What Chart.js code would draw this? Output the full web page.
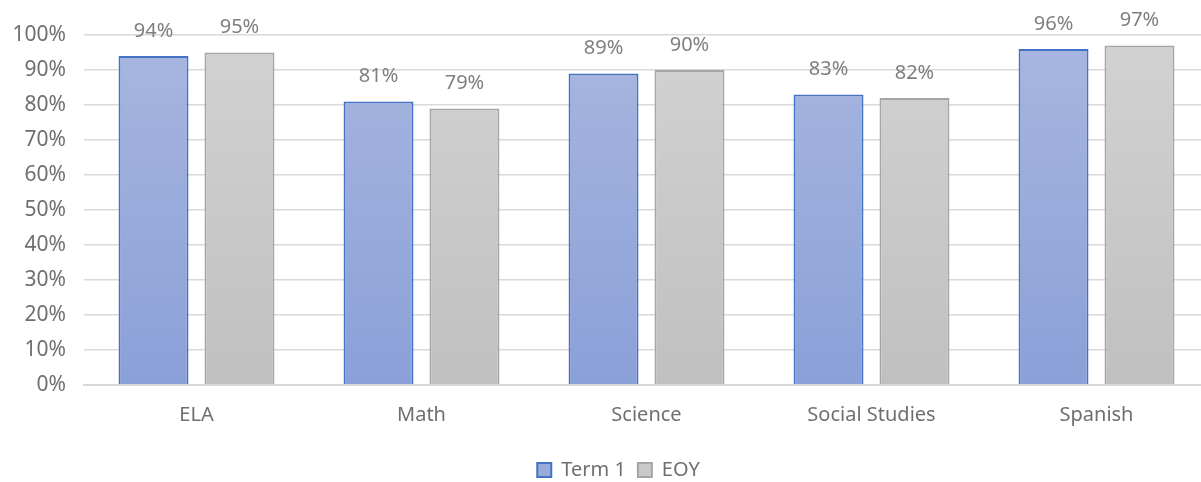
<!DOCTYPE html>
<html lang="en">
<head>
    <meta charset="UTF-8">
    <title>Term 1 vs EOY</title>
    <script src="https://cdn.jsdelivr.net/npm/chart.js"></script>
    <style>
        html, body { margin: 0; padding: 0; background: #fff; overflow: hidden; }
        #wrap { width: 1237px; height: 482px; }
    </style>
</head>
<body>
    <div id="wrap"><canvas id="gradesChart"></canvas></div>
    <script>
        const subjects = ['ELA', 'Math', 'Science', 'Social Studies', 'Spanish'];
        const term1 = [94, 81, 89, 83, 96];
        const eoy = [95, 79, 90, 82, 97];
        const seriesNames = ['Term 1', 'EOY'];

        const FONT = 'Noto Sans';
        const TEXT = '#6f6f6f';

        function vGradient(ctx, top, bottom) {
            const area = ctx.chart.chartArea;
            if (!area) return top;
            const g = ctx.chart.ctx.createLinearGradient(0, area.top, 0, area.bottom);
            g.addColorStop(0, top);
            g.addColorStop(1, bottom);
            return g;
        }

        // value labels above each bar
        const barLabels = {
            id: 'barLabels',
            afterDatasetsDraw(chart) {
                const c = chart.ctx;
                c.save();
                c.font = '20px "' + FONT + '"';
                c.fillStyle = '#7f7f7f';
                c.textAlign = 'center';
                c.textBaseline = 'middle';
                chart.data.datasets.forEach((ds, i) => {
                    chart.getDatasetMeta(i).data.forEach((bar, j) => {
                        c.fillText(ds.data[j] + '%', bar.x, bar.y - 25);
                    });
                });
                c.restore();
            }
        };

        // legend sits a little right of the canvas centre
        const legendShift = {
            id: 'legendShift',
            afterLayout(chart) {
                chart.legend.left += 14;
                chart.legend.right += 14;
            }
        };

        new Chart(document.getElementById('gradesChart'), {
            type: 'bar',
            data: {
                labels: subjects,
                datasets: [{
                    label: seriesNames[0],
                    data: term1,
                    backgroundColor: ctx => vGradient(ctx, '#a8b6e0', '#8aa0d8'),
                    borderColor: '#4472c4',
                    borderWidth: 2,
                    borderSkipped: 'bottom'
                }, {
                    label: seriesNames[1],
                    data: eoy,
                    backgroundColor: ctx => vGradient(ctx, '#d2d2d2', '#c0c0c0'),
                    borderColor: '#a5a5a5',
                    borderWidth: 2,
                    borderSkipped: 'bottom'
                }]
            },
            options: {
                responsive: true,
                maintainAspectRatio: false,
                animation: false,
                datasets: { bar: { categoryPercentage: 0.764, barPercentage: 0.814 } },
                layout: { padding: { top: 35, right: 28, left: 0, bottom: -8 } },
                plugins: {
                    tooltip: { enabled: false },
                    legend: {
                        position: 'bottom',
                        labels: {
                            font: { family: FONT, size: 20 },
                            color: TEXT,
                            boxWidth: 14,
                            boxHeight: 14,
                            padding: 12,
                            generateLabels(chart) {
                                const fills = ['#98abdc', '#c9c9c9'];
                                return chart.data.datasets.map((ds, i) => ({
                                    text: ds.label,
                                    fillStyle: fills[i],
                                    strokeStyle: ds.borderColor,
                                    lineWidth: 2,
                                    fontColor: TEXT,
                                    datasetIndex: i
                                }));
                            }
                        }
                    }
                },
                scales: {
                    x: {
                        grid: { display: false },
                        border: { color: '#d9d9d9', width: 2 },
                        ticks: { font: { family: FONT, size: 20 }, color: TEXT, padding: 10 },
                        afterFit(scale) { scale.height = 63; }
                    },
                    y: {
                        min: 0,
                        max: 100,
                        afterFit(scale) { scale.width = 84; },
                        grid: { color: '#d9d9d9', lineWidth: 1.5, drawTicks: false },
                        border: { display: false },
                        ticks: {
                            stepSize: 10,
                            padding: 18,
                            font: { family: FONT, size: 21 },
                            color: TEXT,
                            callback: v => v + '%'
                        }
                    }
                }
            },
            plugins: [barLabels, legendShift]
        });
    </script>
</body>
</html>
